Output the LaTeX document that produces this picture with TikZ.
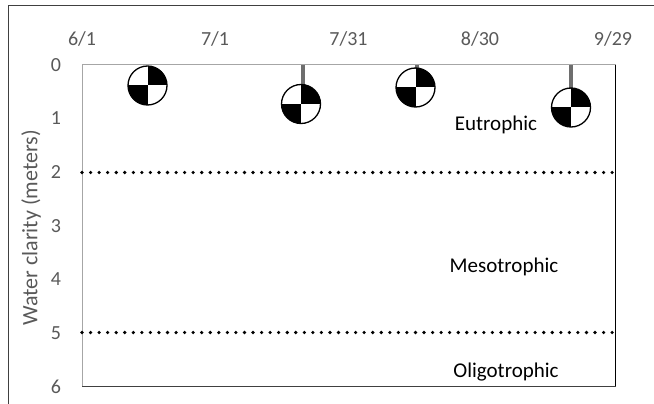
\documentclass[tikz,border=0pt]{standalone}
\usepackage{fontspec}
\setmainfont{Carlito}
\definecolor{ticktext}{HTML}{595959}
\definecolor{axisgray}{HTML}{A6A6A6}
\definecolor{stemgray}{HTML}{6E6E6E}
\tikzset{
  ticklabel/.style={text=ticktext,font=\fontsize{20}{20}\selectfont,inner sep=0pt,anchor=center},
  zonelabel/.style={text=black,font=\fontsize{21}{21}\selectfont,inner sep=0pt,anchor=center},
  axistext/.style={text=ticktext,font=\fontsize{22}{22}\selectfont,inner sep=0pt,anchor=center,rotate=90},
  stem/.style={draw=stemgray,line width=4pt},
  limit/.style={draw=black,line width=3.6pt,line cap=round,dash pattern=on 0pt off 8.55pt},
  disk/.pic={
    \begin{scope}
      \clip (0,0) circle[radius=19.5];
      \fill[black] (0,0) rectangle (25,-25);
      \fill[black] (0,0) rectangle (-25,25);
    \end{scope}
    \draw[black,line width=1.3pt] (0,0) circle[radius=19.5];
  }
}
\begin{document}
\begin{tikzpicture}[x=1pt,y=-1pt]
\useasboundingbox (0,0) rectangle (654,404);
\draw[draw=black!75,line width=1.5pt] (8.5,404) -- (8.5,5.5) -- (654,5.5);
\coordinate (tl) at (82,65);
\coordinate (tr) at (615.5,65);
\coordinate (bl) at (82,386.5);
\coordinate (br) at (615.5,386.5);
\draw[axisgray,line width=1pt] (bl) -- (tl) -- (tr);
\draw[black,line width=1pt] (tr) -- (br);
\draw[black!75,line width=1.5pt] (bl) -- (br);
\node[ticklabel] (d1) at (82,39) {6/1};
\node[ticklabel] (d2) at (215,39) {7/1};
\node[ticklabel] (d3) at (348.5,39) {7/31};
\node[ticklabel] (d4) at (480,39) {8/30};
\node[ticklabel] (d5) at (613,39) {9/29};
\node[ticklabel] (y0) at (56,65) {0};
\node[ticklabel] (y1) at (56,118.5) {1};
\node[ticklabel] (y2) at (56,172.5) {2};
\node[ticklabel] (y3) at (56,226) {3};
\node[ticklabel] (y4) at (56,279.5) {4};
\node[ticklabel] (y5) at (56,333) {5};
\node[ticklabel] (y6) at (56,387) {6};
\node[axistext] (ytitle) at (31,228) {Water clarity (meters)};
\coordinate (s2t) at (302.5,65); \coordinate (s2b) at (302.5,86);
\coordinate (s3t) at (417,65);   \coordinate (s3b) at (417,69);
\coordinate (s4t) at (571,65);   \coordinate (s4b) at (571,89);
\draw[stem] (s2t) -- (s2b);
\draw[stem] (s3t) -- (s3b);
\draw[stem] (s4t) -- (s4b);
\pic at (147.5,85.5) {disk};
\pic at (301,104) {disk};
\pic at (415.5,87.5) {disk};
\pic at (571,107.5) {disk};
\coordinate (u1) at (82,172.5); \coordinate (u2) at (615.5,172.5);
\coordinate (l1) at (82,332.5); \coordinate (l2) at (615.5,332.5);
\draw[limit] (u1) -- (u2);
\draw[limit] (l1) -- (l2);
\node[zonelabel] (eu) at (496,125) {Eutrophic};
\node[zonelabel] (me) at (504,267) {Mesotrophic};
\node[zonelabel] (ol) at (506,372) {Oligotrophic};
\end{tikzpicture}
\end{document}
